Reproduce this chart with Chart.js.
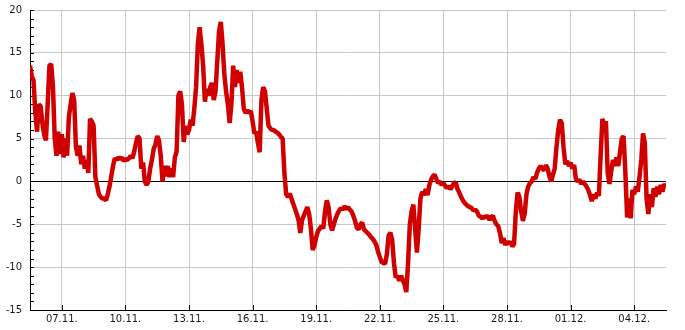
<!DOCTYPE html>
<html>
<head>
<meta charset="utf-8">
<script src="https://cdn.jsdelivr.net/npm/chart.js@4/dist/chart.umd.min.js"></script>
<style>
  html, body { margin: 0; padding: 0; background: #fff; }
  #chart { display: block; }
</style>
</head>
<body>
<canvas id="chart" width="685" height="330"></canvas>
<script>
// readings every 2 hours, 05.11. 12:00 .. 05.12. 12:00
// x is counted in days of November (01.12. = 31)
const firstReading = 5.5;
const stepDays     = 2 / 24;
const xMin = 5.5, xMax = 35.5;
const yMin = -15, yMax = 20;

const temps = [
    13.5, 12.3, 11.8, 8.0, 5.8, 9.0,                                  // 05.11.
    8.8, 6.8, 5.5, 4.8, 9.0, 13.5, 13.7, 11.0, 5.0, 3.0, 5.8, 3.2,      // 06.11.
    5.5, 2.8, 5.0, 3.0, 7.5, 9.0, 10.3, 9.5, 4.0, 3.0, 4.2, 2.0,        // 07.11.
    3.0, 1.5, 2.5, 1.0, 7.3, 7.0, 6.5, 0.5, -0.5, -1.5, -1.8, -2.0,     // 08.11.
    -2.0, -2.2, -1.5, -0.6, 0.6, 1.8, 2.7, 2.5, 2.8, 2.6, 2.8, 2.4,     // 09.11.
    2.6, 2.5, 2.7, 3.0, 2.7, 3.5, 4.5, 5.3, 5.0, 1.5, 2.2, 0.0,         // 10.11.
    -0.4, 0.0, 1.5, 2.5, 3.8, 4.3, 5.3, 4.8, 3.0, 0.0, 1.8, 0.6,        // 11.11.
    1.8, 0.5, 1.5, 0.5, 2.8, 3.5, 10.0, 10.5, 9.0, 4.6, 6.5, 5.5,       // 12.11.
    6.0, 7.2, 6.5, 8.5, 11.0, 16.0, 18.0, 16.0, 13.5, 9.3, 10.8, 10.0,  // 13.11.
    11.0, 11.5, 9.5, 10.5, 14.0, 17.5, 18.6, 16.0, 12.5, 10.5, 9.0, 6.8,// 14.11.
    9.0, 13.5, 11.0, 13.0, 11.5, 12.8, 11.0, 8.5, 8.0, 8.3, 8.0, 8.2,   // 15.11.
    7.0, 5.6, 5.8, 4.5, 3.4, 9.5, 11.0, 10.5, 8.5, 6.5, 6.2, 6.0,       // 16.11.
    6.0, 5.8, 5.7, 5.5, 5.2, 5.0, 1.0, -1.5, -1.8, -1.4, -2.0, -2.6,    // 17.11.
    -3.2, -3.8, -4.5, -6.0, -4.5, -4.0, -3.5, -3.0, -3.8, -5.5, -8.0, -7.5, // 18.11.
    -6.5, -5.8, -5.5, -5.2, -5.5, -3.5, -2.2, -3.0, -5.0, -5.7, -5.0, -4.3, // 19.11.
    -3.8, -3.4, -3.1, -3.3, -2.9, -3.2, -3.0, -3.3, -3.5, -4.0, -4.6, -5.4, // 20.11.
    -5.6, -5.0, -4.8, -5.6, -5.8, -6.0, -6.2, -6.5, -6.7, -7.0, -7.4, -8.2, // 21.11.
    -8.8, -9.4, -9.5, -9.6, -8.5, -6.3, -6.0, -6.8, -9.5, -11.2, -11.0, -11.6, // 22.11.
    -11.0, -11.5, -12.0, -12.9, -9.5, -5.0, -3.5, -2.7, -5.5, -8.3, -5.5, -2.0, // 23.11.
    -1.2, -1.6, -0.9, -1.6, -0.5, 0.2, 0.6, 0.8, 0.3, -0.2, 0.0, -0.4,  // 24.11.
    -0.2, -0.5, -0.8, -0.5, -0.9, -0.6, -0.2, -0.1, -0.9, -1.3, -1.8, -2.2, // 25.11.
    -2.5, -2.7, -2.9, -3.0, -3.1, -3.4, -3.3, -3.5, -4.0, -4.1, -4.3, -4.1, // 26.11.
    -4.2, -4.0, -4.5, -4.2, -4.0, -4.6, -5.0, -5.2, -6.0, -7.2, -6.6, -7.4, // 27.11.
    -7.0, -7.3, -7.0, -7.6, -7.3, -3.5, -1.3, -1.8, -3.5, -4.6, -3.8, -1.5, // 28.11.
    -0.6, -0.2, 0.0, 0.5, 0.3, 1.0, 1.5, 1.8, 1.5, 1.3, 1.9, 1.5,       // 29.11.
    0.6, 0.0, 0.8, 1.5, 4.0, 6.0, 7.2, 6.8, 4.0, 2.0, 2.4, 1.8,         // 30.11.
    2.2, 1.5, 1.9, 0.3, 0.0, 0.2, -0.3, 0.0, -0.3, -0.6, -1.0, -1.6,    // 01.12.
    -2.3, -1.5, -2.0, -1.3, -1.7, 3.0, 7.3, 6.5, 7.0, 1.0, -0.3, 1.2,   // 02.12.
    2.5, 1.8, 2.8, 1.8, 3.5, 5.0, 5.3, 1.0, -4.2, -2.0, -4.3, -1.0,     // 03.12.
    -1.5, -0.6, -1.2, 0.5, 2.5, 5.6, 4.5, -2.0, -3.8, -1.5, -3.0, -0.8, // 04.12.
    -1.8, -0.6, -1.5, -0.4, -1.2, -0.3, -0.7                            // 05.12.
];

const tickDays   = [7, 10, 13, 16, 19, 22, 25, 28, 31, 34];
const tickLabels = ['07.11.', '10.11.', '13.11.', '16.11.', '19.11.',
                    '22.11.', '25.11.', '28.11.', '01.12.', '04.12.'];

const LINE = '#d10000';
const GRID = '#c8c8c8';
const INK  = '#000000';
const TEXT = '#1a1a1a';
const FONT = { family: 'DejaVu Sans', size: 10 };

const points = temps.map((v, i) => ({ x: firstReading + i * stepDays, y: v }));

// small tick marks pointing into the plot, like the original
const insideTicks = {
    id: 'insideTicks',
    beforeDatasetsDraw(chart) {
        const { ctx, chartArea, scales: { x, y } } = chart;
        ctx.save();
        ctx.strokeStyle = INK;
        ctx.lineWidth = 1;
        ctx.beginPath();
        y.ticks.forEach(t => {
            const py = Math.round(y.getPixelForValue(t.value)) + 0.5;
            ctx.moveTo(chartArea.left, py);
            ctx.lineTo(chartArea.left + 4, py);
        });
        x.ticks.forEach(t => {
            const px = Math.round(x.getPixelForValue(t.value)) + 0.5;
            ctx.moveTo(px, chartArea.bottom);
            ctx.lineTo(px, chartArea.bottom - 5);
        });
        ctx.stroke();
        ctx.restore();
    }
};

new Chart(document.getElementById('chart').getContext('2d'), {
    type: 'line',
    data: {
        datasets: [{
            data: points,
            borderColor: LINE,
            borderWidth: 4.5,
            borderJoinStyle: 'bevel',
            pointRadius: 0,
            tension: 0,
            fill: false,
        }],
    },
    options: {
        responsive: false,
        animation: false,
        devicePixelRatio: 1,
        layout: { padding: { left: 0, top: 10, right: 19, bottom: 0 } },
        plugins: { legend: { display: false }, tooltip: { enabled: false } },
        scales: {
            x: {
                type: 'linear',
                min: xMin,
                max: xMax,
                afterBuildTicks: s => { s.ticks = tickDays.map(v => ({ value: v })); },
                afterFit: s => { s.height = 20; },
                grid:   { color: GRID, drawTicks: false },
                border: { color: INK },
                ticks: {
                    autoSkip: false,
                    maxRotation: 0,
                    padding: 3,
                    color: TEXT,
                    font: FONT,
                    callback: v => tickLabels[tickDays.indexOf(v)],
                },
            },
            y: {
                min: yMin,
                max: yMax,
                afterFit: s => {
                    s.width = 30;
                    s.paddingTop = 0;
                    s.paddingBottom = 0;
                },
                grid: {
                    drawTicks: false,
                    color: c => (c.tick.value === 0 || c.tick.value === yMin) ? INK
                              : (c.tick.value % 5 === 0 ? GRID : 'rgba(0,0,0,0)'),
                },
                border: { color: INK },
                ticks: {
                    stepSize: 1,
                    autoSkip: false,
                    padding: 8,
                    color: TEXT,
                    font: FONT,
                    callback: v => (v % 5 === 0 ? String(v) : ''),
                },
            },
        },
    },
    plugins: [insideTicks],
});
</script>
</body>
</html>
